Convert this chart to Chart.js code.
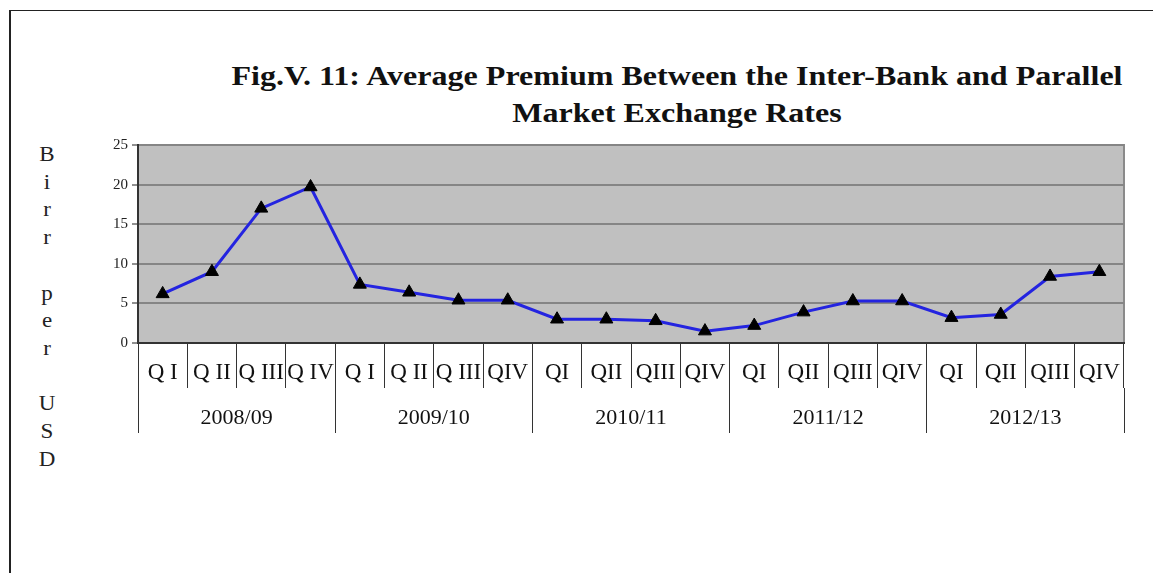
<!DOCTYPE html>
<html>
<head>
    <title>Average Premium Between the Inter-Bank and Parallel Market Exchange Rates</title>
    <style>
        body { margin: 0; background: #fff; font-family: "Liberation Serif", "Times New Roman", serif; }
        #page { position: relative; width: 1153px; height: 573px; overflow: hidden; }
        #frame { position: absolute; left: 9px; top: 10px; right: 0; bottom: 0; border-top: 1px solid #222; border-left: 2px solid #222; }
        #title { position: absolute; left: 200px; width: 954px; top: 57px; text-align: center; white-space: nowrap;
                 font-weight: bold; font-size: 28px; line-height: 37px; color: #111;
                 transform: scaleX(1.145); transform-origin: 477px 0; }
        #ylabel { position: absolute; left: 27px; width: 40px; top: 141px; text-align: center;
                  font-size: 20px; line-height: 27.7px; color: #222; transform: scaleX(1.15); }
        #chart-box { position: absolute; left: 0; top: 0; width: 1153px; height: 573px; }
    </style>
</head>
<body>
    <div id="page">
        <div id="frame"></div>
        <div id="title">Fig.V. 11: Average Premium Between the Inter-Bank and Parallel<br />Market Exchange Rates</div>
        <div id="ylabel">B<br />i<br />r<br />r<br />&nbsp;<br />p<br />e<br />r<br />&nbsp;<br />U<br />S<br />D</div>
        <div id="chart-box">
            <canvas id="premiumChart"></canvas>
        </div>
    </div>

    <script src="https://cdn.jsdelivr.net/npm/chart.js"></script>
    <script type="text/javascript">
        // quarters per fiscal year, years shown on the second row
        const quarters = ['Q I', 'Q II', 'Q III', 'Q IV', 'Q I', 'Q II', 'Q III', 'QIV', 'QI', 'QII',
                          'QIII', 'QIV', 'QI', 'QII', 'QIII', 'QIV', 'QI', 'QII', 'QIII', 'QIV'];
        const years = ['2008/09', '2009/10', '2010/11', '2011/12', '2012/13'];
        const premium = [6.2, 9.0, 17.0, 19.7, 7.4, 6.4, 5.4, 5.4, 3.0, 3.0,
                         2.8, 1.5, 2.2, 3.9, 5.3, 5.3, 3.2, 3.6, 8.4, 9.0];
        const yTicks = [0, 5, 10, 15, 20, 25];

        Chart.defaults.font.family = '"Liberation Serif", "Times New Roman", serif';
        Chart.defaults.color = '#222';

        // grey plot area like the spreadsheet chart
        const plotBackground = {
            id: 'plotBackground',
            beforeDraw(chart) {
                const { ctx, chartArea: a } = chart;
                ctx.save();
                ctx.fillStyle = '#c0c0c0';
                ctx.fillRect(a.left, a.top, a.width, a.height);
                ctx.strokeStyle = '#8a8a8a';
                ctx.lineWidth = 2;
                ctx.strokeRect(a.left, a.top, a.width, a.height);
                ctx.restore();
            }
        };

        const ctx = document.getElementById('premiumChart');
        window.premiumChart = new Chart(ctx, {
            type: 'line',
            data: {
                labels: quarters,
                datasets: [{
                    label: 'Premium',
                    data: premium,
                    xAxisID: 'x',
                    yAxisID: 'y',
                    borderColor: '#2424e0',
                    borderWidth: 3,
                    tension: 0,
                    pointStyle: 'triangle',
                    pointRadius: 7.5,
                    pointBackgroundColor: '#000',
                    pointBorderColor: '#000',
                    pointBorderWidth: 1
                }]
            },
            options: {
                responsive: true,
                maintainAspectRatio: false,
                animation: false,
                layout: { padding: { left: 90, right: 29, top: 145, bottom: 140 } },
                plugins: {
                    legend: { display: false },
                    tooltip: { enabled: false }
                },
                scales: {
                    x: {
                        type: 'category',
                        position: 'bottom',
                        offset: true,
                        afterFit: s => { s.height = 45; },
                        grid: { offset: true, drawOnChartArea: false, tickLength: 45, color: '#333', lineWidth: 1 },
                        border: { display: true, color: '#333', width: 2 },
                        ticks: { autoSkip: false, maxRotation: 0, minRotation: 0, padding: -29, font: { size: 23 }, color: '#111' }
                    },
                    x2: {
                        type: 'category',
                        position: 'bottom',
                        labels: years,
                        offset: true,
                        afterFit: s => { s.height = 45; },
                        grid: { offset: true, drawOnChartArea: false, tickLength: 45, color: '#333', lineWidth: 1 },
                        border: { display: false },
                        ticks: { autoSkip: false, maxRotation: 0, minRotation: 0, padding: -28, font: { size: 22 }, color: '#111' }
                    },
                    y: {
                        min: 0,
                        max: 25,
                        afterFit: s => { s.width = 48; },
                        afterBuildTicks: s => { s.ticks = yTicks.map(v => ({ value: v })); },
                        grid: { color: '#858585', lineWidth: 2, tickLength: 6, tickColor: '#222', tickWidth: 1 },
                        border: { display: true, color: '#333', width: 2 },
                        ticks: { padding: 4, font: { size: 15 }, color: '#222' }
                    }
                }
            },
            plugins: [plotBackground]
        });
    </script>
</body>
</html>
